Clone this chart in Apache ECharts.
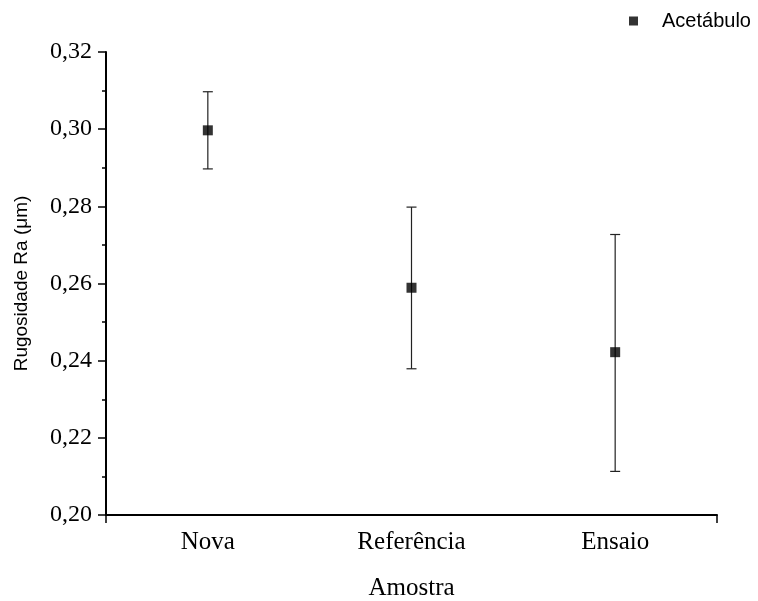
<!DOCTYPE html>
<html>
<head>
<meta charset="utf-8">
<script src="https://cdn.jsdelivr.net/npm/echarts@6/dist/echarts.min.js"></script>
<style>html,body{margin:0;padding:0;background:#fff}#c{width:758px;height:601px}</style>
</head>
<body>
<div id="c"></div>
<script>
const categories = ['Nova', 'Referência', 'Ensaio'];
const meanValues = [0.2997, 0.2589, 0.2422];
const lowValues = [0.2897, 0.2379, 0.2113];
const highValues = [0.3097, 0.2798, 0.2727];
const seriesName = 'Acetábulo';
const yTicks = { min: 0.20, max: 0.32, interval: 0.02 };

const chart = echarts.init(document.getElementById('c'), null, { renderer: 'canvas' });
const serif = '"Liberation Serif", "DejaVu Serif", serif';
const sans = '"Liberation Sans", Arial, sans-serif';

const errData = categories.map((c, i) => [i, lowValues[i], highValues[i]]);

chart.setOption({
  animation: false,
  backgroundColor: '#fff',
  grid: { left: 106, right: 41, top: 52, bottom: 86, containLabel: false, outerBoundsMode: 'none' },
  legend: {
    data: [seriesName],
    top: 6,
    left: 624,
    icon: 'rect',
    itemWidth: 9,
    itemHeight: 9,
    itemGap: 0,
    textStyle: { fontFamily: sans, fontSize: 20, color: '#000', padding: [0, 0, 0, 19] }
  },
  xAxis: [{
    type: 'category',
    data: categories,
    boundaryGap: true,
    name: 'Amostra',
    nameLocation: 'middle',
    nameGap: 61,
    nameTextStyle: { fontFamily: serif, fontSize: 25, color: '#000' },
    axisLine: { lineStyle: { color: '#000', width: 2 } },
    axisTick: { alignWithLabel: true, inside: false, length: 8, lineStyle: { color: '#000', width: 1.5 } },
    axisLabel: { fontFamily: serif, fontSize: 25, color: '#000', margin: 15 },
    splitLine: { show: false }
  }, {
    type: 'value',
    position: 'bottom',
    min: 0, max: 1, interval: 1,
    axisLine: { show: false },
    axisTick: { show: true, length: 8, lineStyle: { color: '#000', width: 1.5 } },
    axisLabel: { show: false },
    splitLine: { show: false }
  }],
  yAxis: {
    type: 'value',
    min: yTicks.min, max: yTicks.max, interval: yTicks.interval,
    name: 'Rugosidade Ra (μm)',
    nameLocation: 'middle',
    nameGap: 75,
    nameTextStyle: { fontFamily: sans, fontSize: 19, color: '#000' },
    axisLine: { show: true, lineStyle: { color: '#000', width: 2 } },
    axisTick: { show: true, length: 8, lineStyle: { color: '#000', width: 1.5 } },
    minorTick: { show: true, splitNumber: 2, length: 4, lineStyle: { color: '#000', width: 1.5 } },
    axisLabel: {
      fontFamily: serif, fontSize: 24, color: '#000', margin: 14,
      formatter: v => v.toFixed(2).replace('.', ',')
    },
    splitLine: { show: false }
  },
  series: [{
    type: 'custom',
    name: 'err',
    xAxisIndex: 0,
    data: errData,
    z: 2,
    renderItem: function (params, api) {
      const x = api.value(0);
      const lo = api.coord([x, api.value(1)]);
      const hi = api.coord([x, api.value(2)]);
      const hw = 5;
      const st = { stroke: '#222', lineWidth: 1.2 };
      return {
        type: 'group',
        children: [
          { type: 'line', shape: { x1: lo[0], y1: lo[1], x2: hi[0], y2: hi[1] }, style: st },
          { type: 'line', shape: { x1: lo[0] - hw, y1: lo[1], x2: lo[0] + hw, y2: lo[1] }, style: st },
          { type: 'line', shape: { x1: hi[0] - hw, y1: hi[1], x2: hi[0] + hw, y2: hi[1] }, style: st }
        ]
      };
    }
  }, {
    type: 'scatter',
    name: seriesName,
    xAxisIndex: 0,
    data: meanValues,
    symbol: 'rect',
    symbolSize: 10,
    z: 3,
    itemStyle: { color: '#000' }
  }]
});
</script>
</body>
</html>
